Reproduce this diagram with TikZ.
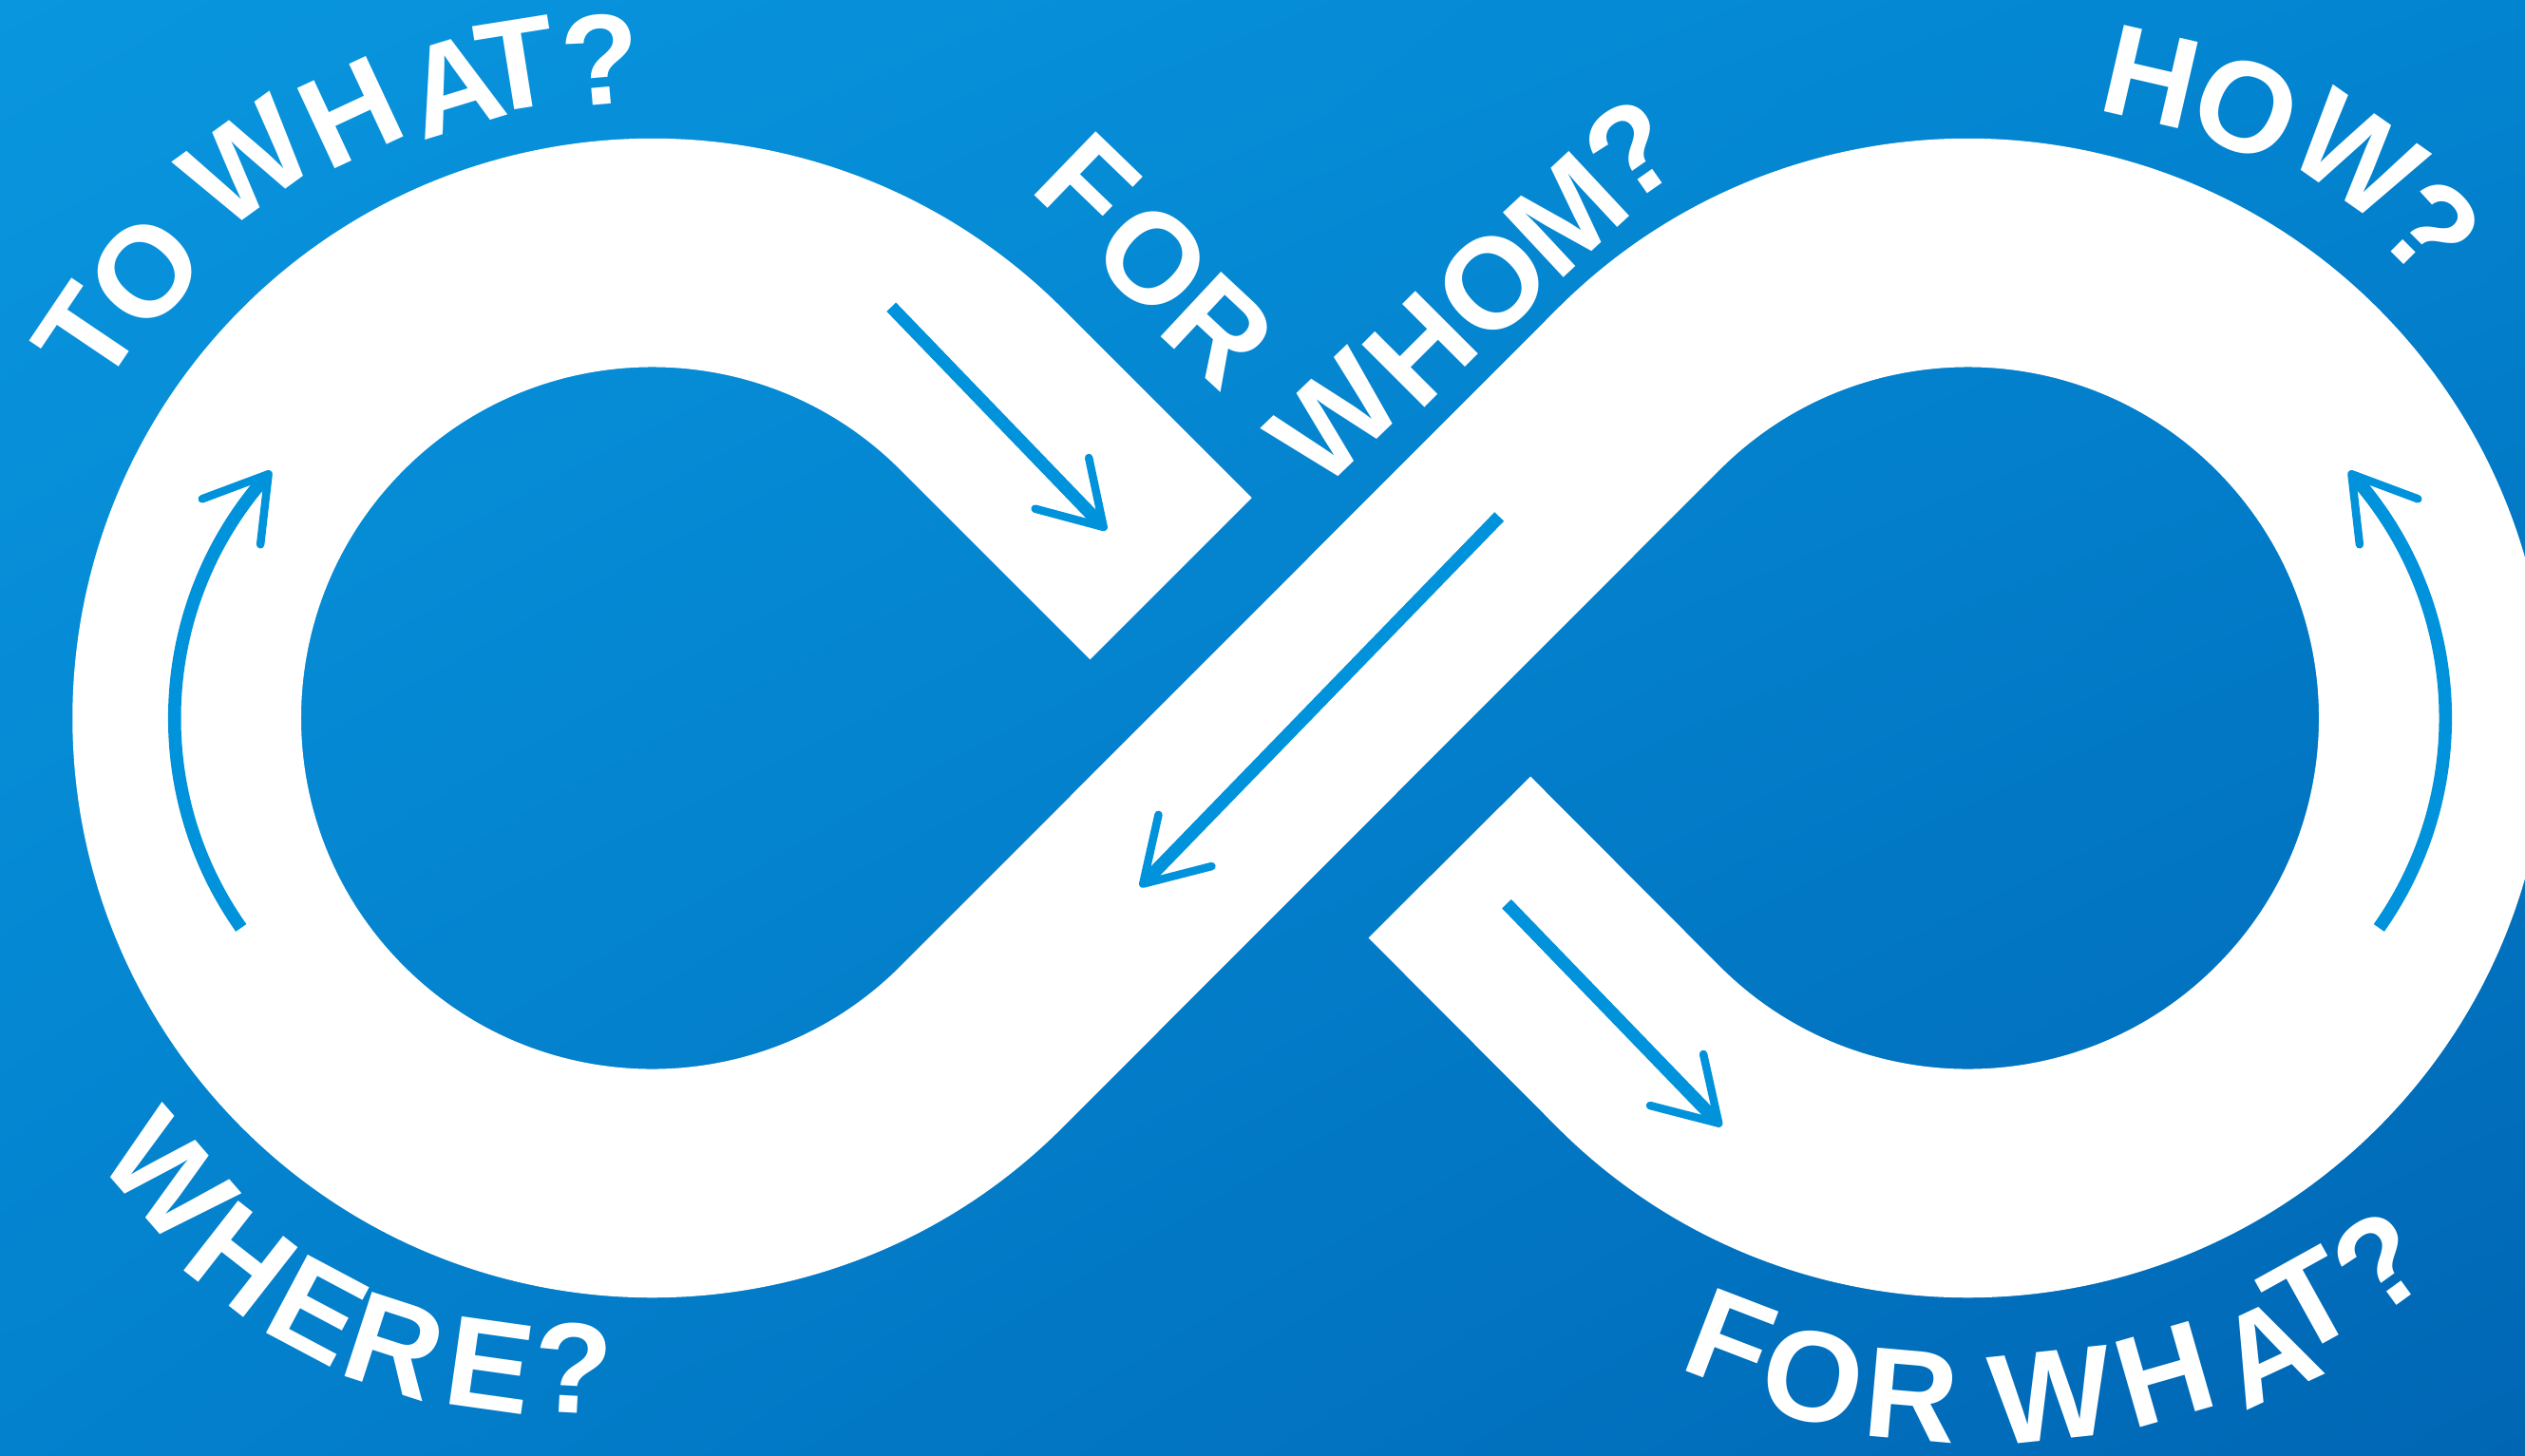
\documentclass[tikz,border=0pt]{standalone}
\usepackage{fontspec}
\setmainfont{Liberation Sans}
\usetikzlibrary{shadings}
\definecolor{bgUL}{RGB}{9,150,222}
\definecolor{bgUR}{RGB}{3,132,208}
\definecolor{bgLL}{RGB}{3,129,205}
\definecolor{bgLR}{RGB}{0,102,180}
\definecolor{arrowblue}{RGB}{0,146,219}
\begin{document}
\begin{tikzpicture}[x=1pt,y=1pt,
  band/.style={draw=white, line width=142pt, line cap=butt, line join=round},
  shaft/.style={draw=arrowblue, line width=8pt, line cap=butt},
  head/.style={draw=arrowblue, line width=5pt, line cap=round, line join=round},
  lt/.style={text=white, font=\fontsize{80}{80}\selectfont\bfseries, inner sep=0pt}]
\useasboundingbox (0,0) rectangle (1568,904);
\clip (0,0) rectangle (1568,904);
\shade[upper left=bgUL, upper right=bgUR, lower left=bgLL, lower right=bgLR] (0,0) rectangle (1568,904);

% infinity band
\coordinate (cutR) at (900.1,371.6);
\coordinate (tB2) at (1017.65,253.65);
\coordinate (tA1) at (609.35,253.65);
\coordinate (cutL) at (727.1,544.6);
\draw[band] (cutR) -- (tB2) arc[start angle=225, end angle=495, radius=289]
  -- (tA1) arc[start angle=-45, end angle=-315, radius=289] -- (cutL);

% arrow 1 (upper strip, left part)
\coordinate (a1s) at (553.5,713.3);
\coordinate (a1e) at (683.2,578.8);
\coordinate (a1t) at (685.3,576.6);
\draw[shaft] (a1s) -- (a1e);
\draw[head] ([shift={(165:44)}]a1t) -- (a1t) -- ([shift={(102:44)}]a1t);

% arrow 2 (rising strip, pointing down-left)
\coordinate (a2s) at (931,583.1);
\coordinate (a2e) at (711.9,357.2);
\coordinate (a2t) at (709.8,355);
\draw[shaft] (a2s) -- (a2e);
\draw[head] ([shift={(77.4:44)}]a2t) -- (a2t) -- ([shift={(14.4:44)}]a2t);

% arrow 3 (upper strip, right part)
\coordinate (a3s) at (935.6,342.6);
\coordinate (a3e) at (1065.2,208.5);
\coordinate (a3t) at (1067.3,206.3);
\draw[shaft] (a3s) -- (a3e);
\draw[head] ([shift={(165.5:44)}]a3t) -- (a3t) -- ([shift={(102.5:44)}]a3t);

% arrow 4 (left loop)
\coordinate (a4s) at (149.7,327.7);
\coordinate (a4t) at (166.7,609.5);
\draw[shaft] (a4s) arc[start angle=215.2, end angle=138.7, radius=226];
\draw[head] ([shift={(263.5:44)}]a4t) -- (a4t) -- ([shift={(200.5:44)}]a4t);

% arrow 5 (right loop)
\coordinate (a5s) at (1477.3,327.7);
\coordinate (a5t) at (1460.3,609.5);
\draw[shaft] (a5s) arc[start angle=-35.2, end angle=41.3, radius=226];
\draw[head] ([shift={(-83.5:44)}]a5t) -- (a5t) -- ([shift={(-20.5:44)}]a5t);

% TO WHAT?
\node[lt, rotate=56] (tw1) at (54,696) {T};
\node[lt, rotate=49] (tw2) at (90,735) {O};
\node[lt, rotate=36] (tw3) at (153,803) {W};
\node[lt, rotate=25] (tw4) at (218,834) {H};
\node[lt, rotate=17] (tw5) at (282,851) {A};
\node[lt, rotate=9] (tw6) at (321,864) {T};
\node[lt, rotate=5] (tw7) at (373,867) {?};

% FOR WHOM?
\node[lt, rotate=-44] (fw1) at (675,789) {F};
\node[lt, rotate=-44] (fw2) at (716,743) {O};
\node[lt, rotate=-43] (fw3) at (757,699) {R};
\node[lt, rotate=44] (fw4) at (829,644) {W};
\node[lt, rotate=45] (fw5) at (882,687) {H};
\node[lt, rotate=44] (fw6) at (927,728) {O};
\node[lt, rotate=43] (fw7) at (973,771) {M};
\node[lt, rotate=35] (fw8) at (1013,811) {?};

% HOW?
\node[lt, rotate=-13] (hw1) at (1336,856) {H};
\node[lt, rotate=-24] (hw2) at (1395,837) {O};
\node[lt, rotate=-35] (hw3) at (1464,807) {W};
\node[lt, rotate=-45] (hw4) at (1510,762) {?};

% WHERE?
\node[lt, rotate=-49] (wh1) at (105,173) {W};
\node[lt, rotate=-38] (wh2) at (150,122) {H};
\node[lt, rotate=-28] (wh3) at (197,90) {E};
\node[lt, rotate=-18] (wh4) at (245,68) {R};
\node[lt, rotate=-8] (wh5) at (304,56) {E};
\node[lt, rotate=-3] (wh6) at (356,54) {?};

% FOR WHAT?
\node[lt, rotate=-21] (fa1) at (1075,71) {F};
\node[lt, rotate=-12] (fa2) at (1126,49) {O};
\node[lt, rotate=-5] (fa3) at (1187,37) {R};
\node[lt, rotate=6] (fa4) at (1274,37) {W};
\node[lt, rotate=16] (fa5) at (1344,50) {H};
\node[lt, rotate=25] (fa6) at (1408,64) {A};
\node[lt, rotate=29] (fa7) at (1434,96) {T};
\node[lt, rotate=36] (fa8) at (1478,120) {?};
\end{tikzpicture}
\end{document}
